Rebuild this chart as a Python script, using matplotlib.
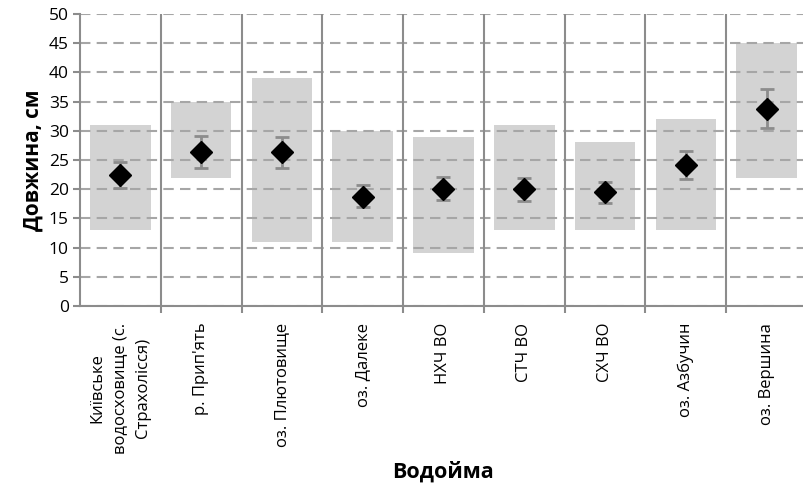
import matplotlib.pyplot as plt
import numpy as np

plt.rcParams['font.family'] = ['Open Sans', 'DejaVu Sans']

categories = ['Київське\nводосховище (с.\nСтрахолісся)', "р. Прип'ять", 'оз. Плютовище',
              'оз. Далеке', 'НХЧ ВО', 'СТЧ ВО', 'СХЧ ВО', 'оз. Азбучин', 'оз. Вершина']
len_min = [13, 22, 11, 11, 9, 13, 13, 13, 22]
len_max = [31, 35, 39, 30, 29, 31, 28, 32, 45]
len_mean = [22.4, 26.4, 26.3, 18.7, 20.1, 20.0, 19.5, 24.2, 33.8]
err_low = [20.2, 23.7, 23.6, 16.9, 18.2, 18.0, 17.6, 21.8, 30.5]
err_high = [24.7, 29.1, 28.9, 20.7, 22.1, 22.0, 21.3, 26.6, 37.1]

x = np.arange(len(categories))
mean = np.array(len_mean)
yerr = [mean - np.array(err_low), np.array(err_high) - mean]

fig = plt.figure(figsize=(8.04, 4.88), dpi=100)
ax = fig.add_axes([80/804, 182/488, 727/804, 292/488])

ax.bar(x, np.array(len_max) - np.array(len_min), bottom=len_min, width=0.75,
       color='#d3d3d3', zorder=0.3)
ax.errorbar(x, mean, yerr=yerr, fmt='none', ecolor='#8c8c8c', elinewidth=2,
            capsize=5, capthick=2, zorder=3)
ax.plot(x, mean, 'D', color='black', markersize=11, zorder=4)

ax.set_xlim(-0.5, len(categories) - 0.5)
ax.set_ylim(0, 50)
ax.set_yticks(np.arange(0, 51, 5))
ax.yaxis.grid(True, color='#a6a6a6', linestyle=(0, (5, 3)), linewidth=1.5)
ax.set_axisbelow(True)

for b in x[:-1] + 0.5:
    ax.axvline(b, color='#8c8c8c', linewidth=1.5, zorder=0.6)

ax.set_xticks(x + 0.5, minor=False)
ax.set_xticklabels([])
ax.set_xticks(x, minor=True)
ax.set_xticklabels(categories, minor=True, rotation=90, ha='center', va='top',
                   multialignment='center', fontsize=12, linespacing=1.55)
ax.tick_params(axis='x', which='minor', length=0, pad=12)
ax.tick_params(axis='x', which='major', length=5, color='#8c8c8c', width=1.5)
ax.tick_params(axis='y', length=5, color='#8c8c8c', width=1.5, labelsize=12.5, pad=3)

for s in ['top', 'right']:
    ax.spines[s].set_visible(False)
for s in ['left', 'bottom']:
    ax.spines[s].set_color('#8c8c8c')
    ax.spines[s].set_linewidth(1.5)

ax.set_ylabel('Довжина, см', fontsize=15, fontweight='bold', labelpad=4)
fig.text(443/804, 1 - 472/488, 'Водойма', fontsize=15.5, fontweight='bold',
         ha='center', va='center')

fig.savefig('out.png', dpi=100)
